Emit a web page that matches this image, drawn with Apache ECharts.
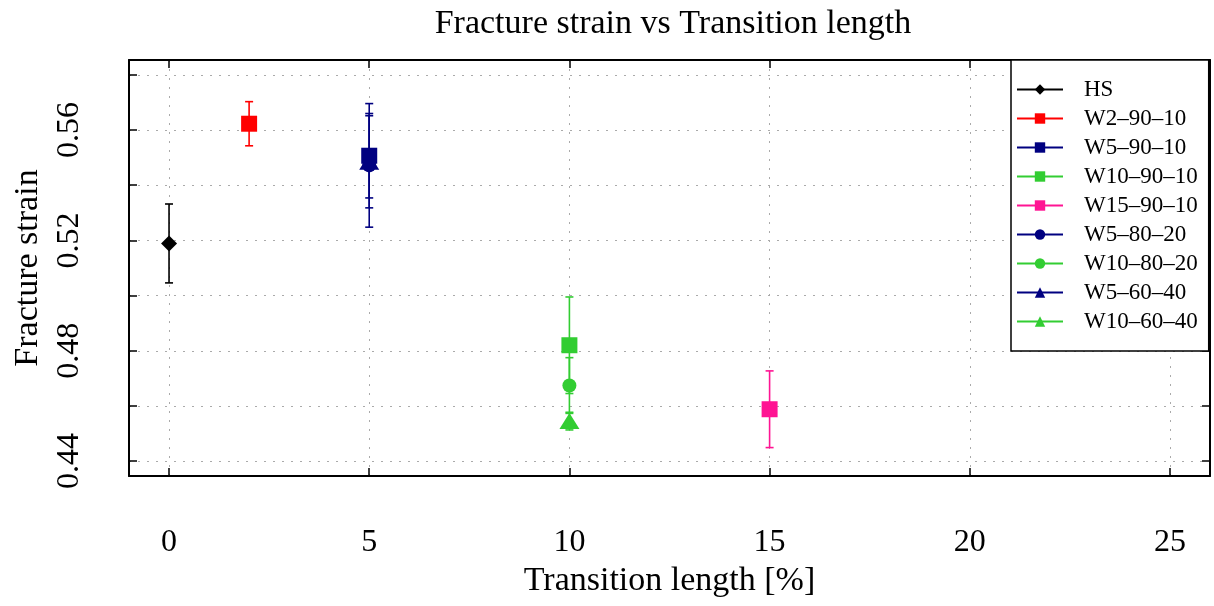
<!DOCTYPE html>
<html>
<head>
<meta charset="utf-8">
<title>Fracture strain vs Transition length</title>
<script src="https://cdn.jsdelivr.net/npm/echarts@6/dist/echarts.min.js"></script>
<style>
html, body { margin: 0; padding: 0; background: #fff; }
#main { width: 1214px; height: 606px; }
</style>
</head>
<body>
<div id="main"></div>
<script>
// data
var seriesNames = ['HS', 'W2–90–10', 'W5–90–10', 'W10–90–10', 'W15–90–10', 'W5–80–20', 'W10–80–20', 'W5–60–40', 'W10–60–40'];
var lengths = [0, 2, 5, 10, 15, 5, 10, 5, 10];
var strains = [0.5189, 0.5623, 0.5507, 0.4820, 0.4588, 0.5472, 0.4674, 0.5485, 0.4545];
var errors  = [0.0143, 0.0080, 0.0153, 0.0175, 0.0139, 0.0224, 0.0101, 0.0167, 0.0032];
var xTicks = [0, 5, 10, 15, 20, 25];
var yTicks = [0.44, 0.46, 0.48, 0.50, 0.52, 0.54, 0.56, 0.58];
var yLabels = [0.44, 0.48, 0.52, 0.56];

// styles
var colors = ['#000000', '#ff0000', '#000080', '#32cd32', '#ff1493', '#000080', '#32cd32', '#000080', '#32cd32'];
var symbols = ['diamond', 'rect', 'rect', 'rect', 'rect', 'circle', 'circle', 'triangle', 'triangle'];
var sizes = [16, 16, 16, 16, 16, 14, 14, [20, 16], [20, 16]];

var font = 'Liberation Serif';
var myChart = echarts.init(document.getElementById('main'));

var grid = { left: 129, right: 4, top: 60, bottom: 130 };
var gridStyle = { color: '#aaaaaa', width: 1, type: [2, 7] };
var frame = { show: true, onZero: false, lineStyle: { color: '#000', width: 2 } };
var tick = { show: true, inside: true, length: 8, lineStyle: { color: '#000', width: 1.5 } };

function xAxisDef(pos, main) {
    return {
        type: 'value', position: pos, min: -1, max: 26,
        axisLine: frame,
        axisTick: Object.assign({ customValues: xTicks }, tick),
        splitLine: { show: main, lineStyle: gridStyle },
        axisLabel: main ? {
            customValues: xTicks, margin: 51, color: '#000',
            fontFamily: font, fontSize: 32
        } : { show: false },
        name: main ? 'Transition length [%]' : '',
        nameLocation: 'middle', nameGap: 88,
        nameTextStyle: { fontFamily: font, fontSize: 34, color: '#000' }
    };
}
function yAxisDef(pos, main) {
    return {
        type: 'value', position: pos, min: 0.4346, max: 0.5854,
        axisLine: frame,
        axisTick: Object.assign({ customValues: yTicks }, tick),
        splitLine: { show: main, lineStyle: gridStyle },
        axisLabel: main ? {
            customValues: yLabels, margin: 43, rotate: 90, color: '#000',
            fontFamily: font, fontSize: 32,
            formatter: function (v) { return v.toFixed(2); }
        } : { show: false },
        name: main ? 'Fracture strain' : '',
        nameLocation: 'middle', nameGap: 84,
        nameTextStyle: { fontFamily: font, fontSize: 34, color: '#000' }
    };
}

// error bars
var errData = lengths.map(function (x, i) {
    return [x, strains[i] - errors[i], strains[i] + errors[i], i];
});
function renderErr(params, api) {
    var lo = api.coord([api.value(0), api.value(1)]);
    var hi = api.coord([api.value(0), api.value(2)]);
    var c = colors[api.value(3)];
    var w = 4;
    var st = { stroke: c, lineWidth: 1.6 };
    return {
        type: 'group',
        children: [
            { type: 'line', shape: { x1: lo[0], y1: lo[1], x2: hi[0], y2: hi[1] }, style: st },
            { type: 'line', shape: { x1: lo[0] - w, y1: lo[1], x2: lo[0] + w, y2: lo[1] }, style: st },
            { type: 'line', shape: { x1: hi[0] - w, y1: hi[1], x2: hi[0] + w, y2: hi[1] }, style: st }
        ]
    };
}

var series = [{
    name: 'errorbars', type: 'custom', renderItem: renderErr,
    data: errData, z: 2, silent: true
}];
seriesNames.forEach(function (n, i) {
    series.push({
        name: n, type: 'line',
        data: [[lengths[i], strains[i]]],
        symbol: symbols[i], symbolSize: sizes[i],
        itemStyle: { color: colors[i] },
        lineStyle: { color: colors[i], width: 2 },
        z: 3 + i
    });
});

var option = {
    animation: false,
    title: {
        text: 'Fracture strain vs Transition length',
        left: 668, top: 2, textAlign: 'center',
        textStyle: { fontFamily: font, fontSize: 34, fontWeight: 'normal', color: '#000' }
    },
    grid: grid,
    legend: {
        data: seriesNames,
        orient: 'vertical',
        left: 1011, top: 60,
        padding: [18, 11, 18, 5],
        itemWidth: 46, itemHeight: 13, itemGap: 6,
        borderColor: '#000', borderWidth: 1.5,
        backgroundColor: '#fff',
        textStyle: { fontFamily: font, fontSize: 23, color: '#000', lineHeight: 20, padding: [0, 0, 0, 16] }
    },
    xAxis: [xAxisDef('bottom', true), xAxisDef('top', false)],
    yAxis: [yAxisDef('left', true), yAxisDef('right', false)],
    series: series
};
myChart.setOption(option);
</script>
</body>
</html>
